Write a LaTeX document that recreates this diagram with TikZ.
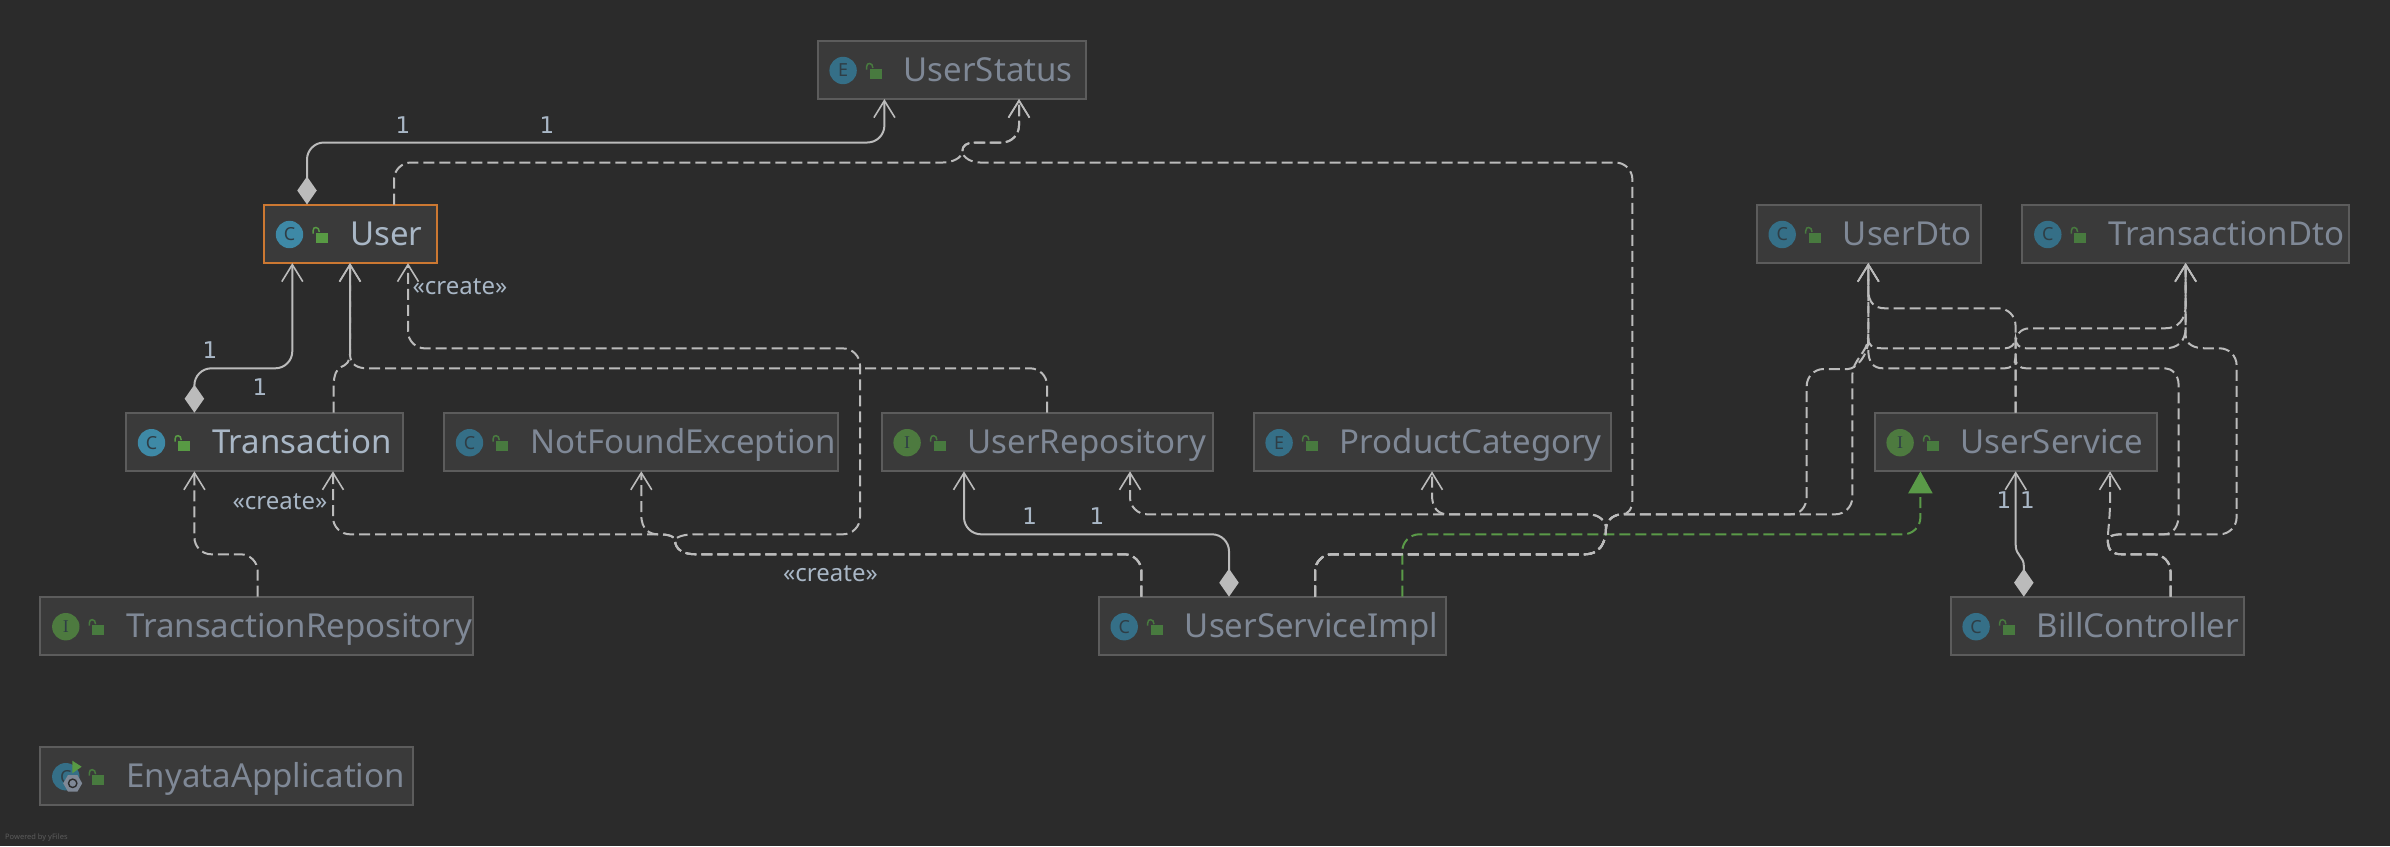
\documentclass[tikz,border=0pt]{standalone}
\usepackage{fontspec}
\setmainfont{Noto Sans}
\newfontfamily\serifglyph{Liberation Serif}
\newfontfamily\numfont{DejaVu Sans}
\usetikzlibrary{arrows.meta,shapes.geometric}
\definecolor{bg}{HTML}{2B2B2B}
\definecolor{boxfill}{HTML}{3A3A3A}
\definecolor{boxline}{HTML}{5C5C5C}
\definecolor{edgecol}{HTML}{BBBBBB}
\definecolor{greenrel}{HTML}{5A9A48}
\definecolor{lbl}{HTML}{A9B7C6}
\definecolor{dimtext}{HTML}{7F8896}
\definecolor{hitext}{HTML}{A9B7C6}
\definecolor{orangeb}{HTML}{CC7832}
\definecolor{blueh}{HTML}{3E89A6}
\definecolor{blued}{HTML}{356F87}
\definecolor{greenI}{HTML}{4D7A3F}
\definecolor{lockh}{HTML}{589A44}
\definecolor{lockd}{HTML}{487A3F}
\definecolor{glyph}{HTML}{2F3E46}
\tikzset{
  x=1pt,y=-1pt,
  umlbox/.style={draw=boxline,fill=boxfill,line width=2pt,inner sep=0pt,outer sep=0pt,minimum height=58.6pt,anchor=north west},
  boxtext/.style={anchor=base west,inner sep=0pt,font=\fontsize{33}{38}\selectfont},
  edgelbl/.style={inner sep=0pt,text=lbl,font=\fontsize{24}{28}\selectfont},
  numlbl/.style={inner sep=0pt,text=lbl,font=\numfont\fontsize{23}{28}\selectfont},
  glyphtext/.style={inner sep=0pt,text=glyph,font=\fontsize{18}{18}\selectfont},
  opentip/.tip={Straight Barb[length=17pt,width=21pt,line width=1.6pt]},
  diamondtip/.tip={Diamond[length=28pt,width=19.5pt]},
  conn/.style={draw=edgecol,line width=2pt},
  dep/.style={conn,dash pattern=on 11pt off 5pt,-{opentip}},
  comp/.style={conn,{diamondtip}-{opentip}},
  real/.style={draw=greenrel,line width=2pt,dash pattern=on 11pt off 5pt,-{Triangle[length=22pt,width=24pt,fill=greenrel]}},
}
\newcommand{\rr}{17}
% rounded corners as explicit curves: corner x, y, horizontal direction, vertical direction
\newcommand{\hv}[4]{-- ({#1-(#3)*\rr},#2) .. controls ({#1-(#3)*\rr*0.45},#2) and (#1,{#2+(#4)*\rr*0.45}) .. (#1,{#2+(#4)*\rr}) }
\newcommand{\vh}[4]{-- (#1,{#2-(#4)*\rr}) .. controls (#1,{#2-(#4)*\rr*0.45}) and ({#1+(#3)*\rr*0.45},#2) .. ({#1+(#3)*\rr},#2) }
% shared bundle routes
\newcommand{\usiRight}{\vh{1315}{554.3}{1}{-1} -- (1585,554.3) .. controls (1598,554.3) and (1606,545) .. (1606,528) }
\newcommand{\usiLeft}{\vh{1141.4}{554.3}{-1}{-1} -- (696,554.3) .. controls (684,554.3) and (675,550) .. (675,540) }
\newcommand{\billUp}{\vh{2170.5}{554.3}{-1}{-1} -- (2122,554.3) .. controls (2112,554.3) and (2107.8,550) .. (2107.8,540) }
\newcommand{\statusLeg}{(962.4,151) .. controls (962.4,146) and (966,142.5) .. (975,142.5) \hv{1019}{142.5}{1}{-1} }
% name x y w glyph iconcolour lockcolour textcolour text
\newcommand{\umlclass}[9]{%
  \begin{scope}[shift={(#2,#3)}]
    \node[umlbox,minimum width=#4pt] (#1) at (0,0) {};
    \fill[#6] (25.5,30) circle[radius=13.7];
    \node[glyphtext] (#1-glyph) at (25.5,30) {#5};
    \fill[#7] (52,28) rectangle (64,38);
    \draw[#7,line width=1.5pt] (49,29) -- (49,26.5) .. controls (49,23.5) and (50.5,23) .. (52,23) .. controls (54,23) and (55,24.5) .. (55.3,27.5);
    \node[boxtext,text=#8] (#1-text) at (86,41) {#9};
  \end{scope}}
\begin{document}
\begin{tikzpicture}
\useasboundingbox (0,0) rectangle (2390,846);
\fill[bg] (0,0) rectangle (2390,846);

\umlclass{UserStatus}{817.6}{40.5}{268.8}{E}{blued}{lockd}{dimtext}{UserStatus}
\umlclass{User}{264}{204.5}{173}{C}{blueh}{lockh}{hitext}{User}
\draw[orangeb,line width=2pt] (User.north west) rectangle (User.south east);
\umlclass{UserDto}{1756.7}{204.5}{224.6}{C}{blued}{lockd}{dimtext}{UserDto}
\umlclass{TransactionDto}{2022.3}{204.5}{327}{C}{blued}{lockd}{dimtext}{TransactionDto}
\umlclass{Transaction}{126}{412.7}{276.5}{C}{blueh}{lockh}{hitext}{Transaction}
\umlclass{NotFoundException}{444}{412.7}{394.4}{C}{blued}{lockd}{dimtext}{NotFoundException}
\umlclass{UserRepository}{881.6}{412.7}{331}{\serifglyph I}{greenI}{lockd}{dimtext}{UserRepository}
\umlclass{ProductCategory}{1253.6}{412.7}{357}{E}{blued}{lockd}{dimtext}{ProductCategory}
\umlclass{UserService}{1874.6}{412.7}{282.7}{\serifglyph I}{greenI}{lockd}{dimtext}{UserService}
\umlclass{TransactionRepository}{40.3}{596.7}{433}{\serifglyph I}{greenI}{lockd}{dimtext}{TransactionRepository}
\umlclass{UserServiceImpl}{1098.7}{596.7}{346.8}{C}{blued}{lockd}{dimtext}{UserServiceImpl}
\umlclass{BillController}{1950.6}{596.7}{293}{C}{blued}{lockd}{dimtext}{BillController}
\umlclass{EnyataApplication}{40.3}{746.7}{373}{C}{blued}{lockd}{dimtext}{EnyataApplication}
% run marker and spring hexagon on the application icon
\fill[lockh] (72.3,760.7) -- (81.7,766.7) -- (72.3,773.3) -- cycle;
\node[regular polygon,regular polygon sides=6,fill=dimtext,inner sep=0pt,minimum size=19pt] (springhex) at (72.7,783.3) {};
\draw[bg,line width=1.4pt] (72.7,783.3) circle[radius=4.2];

% --- solid composition edges
\draw[comp] ([xshift=43]User.north west) \vh{307}{142.5}{1}{-1} \hv{884.4}{142.5}{1}{-1} -- ([xshift=66.8]UserStatus.south west);
\draw[comp] ([xshift=130.3]UserServiceImpl.north west) \vh{1229}{534.3}{-1}{-1} \hv{964}{534.3}{-1}{-1} -- ([xshift=82.4]UserRepository.south west);
\draw[comp] ([xshift=68.4]Transaction.north west) \vh{194.4}{368.3}{1}{-1} \hv{292.3}{368.3}{1}{-1} -- ([xshift=28.3]User.south west);
\draw[comp] ([xshift=73.2]BillController.north west) -- (2023.8,566) .. controls (2023.8,556) and (2015.7,556) .. (2015.7,545) -- ([xshift=141.1]UserService.south west);

% --- dependencies on User / UserStatus
\draw[dep] ([xshift=130]User.north west) \vh{394}{162.5}{1}{-1} -- (943,162.5) .. controls (952,162.5) and (962.4,158) .. \statusLeg -- ([xshift=201.4]UserStatus.south west);
\draw[dep] ([xshift=216.3]UserServiceImpl.north west) \usiRight .. controls (1607,518) and (1616,514.3) .. (1622,514.3) .. controls (1628,514.3) and (1632.4,510) .. (1632.4,498) \vh{1632.4}{162.5}{-1}{-1} -- (980,162.5) .. controls (972,162.5) and (962.4,158) .. \statusLeg -- ([xshift=201.4]UserStatus.south west);
\draw[dep] ([xshift=216.3]UserServiceImpl.north west) \usiRight .. controls (1606,522) and (1600,514.3) .. (1588,514.3) \hv{1130}{514.3}{-1}{-1} -- ([xshift=248.4]UserRepository.south west);
\draw[dep] ([xshift=216.3]UserServiceImpl.north west) \usiRight .. controls (1606,522) and (1600,514.3) .. (1588,514.3) -- (1448,514.3) .. controls (1438,514.3) and (1432,508) .. (1432,495) -- ([xshift=178.4]ProductCategory.south west);

% --- UserServiceImpl to the left
\draw[dep] ([xshift=42.7]UserServiceImpl.north west) \usiLeft .. controls (675,537) and (670,534.3) .. (658,534.3) .. controls (650,534.3) and (641.3,530) .. (641.3,515) -- ([xshift=197.3]NotFoundException.south west);
\draw[dep] ([xshift=42.7]UserServiceImpl.north west) \usiLeft .. controls (675,537) and (670,534.3) .. (658,534.3) \hv{333}{534.3}{-1}{-1} -- ([xshift=207]Transaction.south west);
\draw[dep] ([xshift=42.7]UserServiceImpl.north west) \usiLeft .. controls (676,537) and (684,534.3) .. (694,534.3) \hv{860}{534.3}{1}{-1} \vh{860}{348.4}{-1}{-1} \hv{408}{348.4}{-1}{-1} -- ([xshift=144]User.south west);

% --- into User, Transaction
\draw[dep] ([xshift=207.7]Transaction.north west) -- (333.7,385) .. controls (333.7,375) and (337,368.3) .. (341,367) .. controls (346,365) and (350,362) .. (350,354) -- ([xshift=86]User.south west);
\draw[dep] ([xshift=165.4]UserRepository.north west) \vh{1047}{368.3}{-1}{-1} -- (367,368.3) .. controls (358,368.3) and (350,365) .. (350,354) -- ([xshift=86]User.south west);
\draw[dep] ([xshift=217.4]TransactionRepository.north west) \vh{257.7}{554.3}{-1}{-1} \hv{194.4}{554.3}{-1}{-1} -- ([xshift=68.4]Transaction.south west);

% --- realisation
\draw[real] ([xshift=303.6]UserServiceImpl.north west) \vh{1402.3}{534.3}{1}{-1} \hv{1920.4}{534.3}{1}{-1} -- ([xshift=45.8]UserService.south west);

% --- UserServiceImpl to the DTOs
\draw[dep] ([xshift=216.3]UserServiceImpl.north west) \usiRight .. controls (1607,518) and (1616,514.3) .. (1622,514.3) -- (1790,514.3) .. controls (1800,514.3) and (1806.7,508) .. (1806.7,495) \vh{1806.7}{369}{1}{-1} -- (1848,369) .. controls (1856,369) and (1868.3,355) .. (1868.3,340) -- ([xshift=111.6]UserDto.south west);
\draw[dep] ([xshift=216.3]UserServiceImpl.north west) \usiRight .. controls (1607,518) and (1616,514.3) .. (1622,514.3) \hv{1852.3}{514.3}{1}{-1} -- (1852.3,375) .. controls (1852.3,360) and (1868,352) .. (1868,338) .. controls (1868,345) and (1872,348.3) .. (1882,348.3) -- (2005,348.3) .. controls (2010,348.3) and (2015.5,345) .. (2015.5,338) .. controls (2015.5,345) and (2020,348.3) .. (2026,348.3) -- (2165,348.3) .. controls (2177,348.3) and (2185.6,342) .. (2185.6,328) -- ([xshift=163.3]TransactionDto.south west);

% --- UserService to the DTOs
\draw[dep] ([xshift=140.9]UserService.north west) \vh{2015.5}{308.3}{-1}{-1} -- (1885,308.3) .. controls (1875,308.3) and (1868.3,303) .. (1868.3,290) -- ([xshift=111.6]UserDto.south west);
\draw[dep] ([xshift=140.9]UserService.north west) -- (2015.5,345) .. controls (2015.5,335) and (2020,328.3) .. (2030,328.3) -- (2165,328.3) .. controls (2178,328.3) and (2185.6,320) .. (2185.6,305) -- ([xshift=163.3]TransactionDto.south west);

% --- BillController
\draw[dep] ([xshift=219.9]BillController.north west) \billUp .. controls (2107.8,530) and (2110,520) .. (2110,500) -- ([xshift=235.4]UserService.south west);
\draw[dep] ([xshift=219.9]BillController.north west) \billUp .. controls (2107.8,537) and (2112,534.3) .. (2122,534.3) -- (2164,534.3) .. controls (2174,534.3) and (2178.6,525) .. (2178.6,515) -- (2178.6,385) .. controls (2178.6,375) and (2172,368.3) .. (2165,368.3) -- (2026,368.3) .. controls (2020,368.3) and (2015.5,365) .. (2015.5,358) .. controls (2015.5,365) and (2010,368.3) .. (2005,368.3) -- (1883,368.3) .. controls (1873,368.3) and (1868.3,362) .. (1868.3,350) -- ([xshift=111.6]UserDto.south west);
\draw[dep] ([xshift=219.9]BillController.north west) \billUp .. controls (2107.8,537) and (2112,534.3) .. (2122,534.3) \hv{2236.6}{534.3}{1}{-1} \vh{2236.6}{348.3}{-1}{-1} -- (2205,348.3) .. controls (2195,348.3) and (2185.6,345) .. (2185.6,335) -- ([xshift=163.3]TransactionDto.south west);

% --- labels
\node[numlbl] (l1) at (403,125) {1};
\node[numlbl] (l2) at (547,125) {1};
\node[numlbl] (l3) at (210,350) {1};
\node[numlbl] (l4) at (260,387) {1};
\node[numlbl] (l5) at (1029.7,516) {1};
\node[numlbl] (l6) at (1097,516) {1};
\node[numlbl] (l7) at (2004,500) {1};
\node[numlbl] (l8) at (2027.5,500) {1};
\node[edgelbl] (c1) at (460,287) {«create»};
\node[edgelbl] (c2) at (280,502) {«create»};
\node[edgelbl] (c3) at (830.5,574) {«create»};
\node[inner sep=0pt,anchor=west,text=boxline,font=\fontsize{7.5}{9}\selectfont] (yf) at (5,838) {Powered by yFiles};
\end{tikzpicture}
\end{document}
